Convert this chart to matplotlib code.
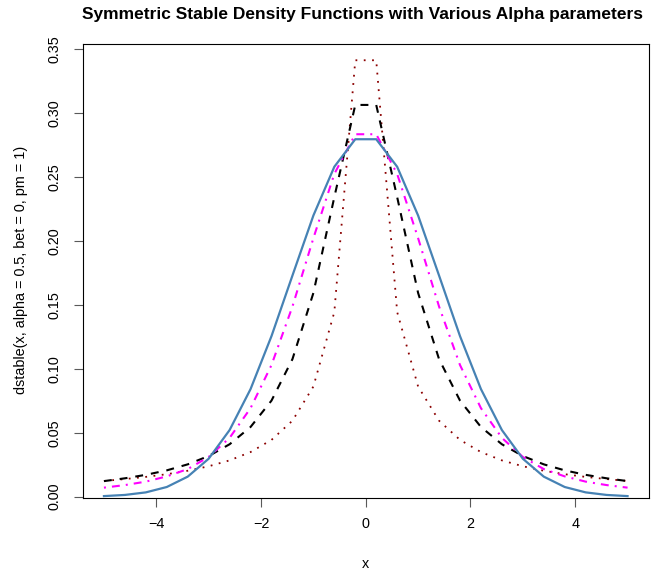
# ==========================================
# SYMMETRIC STABLE DENSITIES
# dstable() curves for alpha = 0.5, 1, 1.5, 2
# values
# ==========================================

import matplotlib
matplotlib.use('Agg')
import matplotlib.pyplot as plt

# =========================
# DATA
# =========================
x = [-5.0, -4.6, -4.2, -3.8, -3.4, -3.0, -2.6, -2.2, -1.8, -1.4, -1.0, -0.6, -0.2,
     0.2, 0.6, 1.0, 1.4, 1.8, 2.2, 2.6, 3.0, 3.4, 3.8, 4.2, 4.6, 5.0]

# alpha = 0.5 (dotted)
dens_a05 = [0.0123, 0.0138, 0.0155, 0.0176, 0.0203, 0.0238, 0.0284, 0.0349, 0.0444,
            0.0594, 0.0861, 0.1443, 0.3410,
            0.3410, 0.1443, 0.0861, 0.0594, 0.0444, 0.0349, 0.0284, 0.0238, 0.0203,
            0.0176, 0.0155, 0.0138, 0.0123]

# alpha = 1 (dashed)
dens_a10 = [0.0122, 0.0144, 0.0171, 0.0206, 0.0253, 0.0318, 0.0410, 0.0545, 0.0751,
            0.1075, 0.1592, 0.2341, 0.3061,
            0.3061, 0.2341, 0.1592, 0.1075, 0.0751, 0.0545, 0.0410, 0.0318, 0.0253,
            0.0206, 0.0171, 0.0144, 0.0122]

# alpha = 1.5 (dot-dash)
dens_a15 = [0.0071, 0.0091, 0.0118, 0.0159, 0.0216, 0.0311, 0.0460, 0.0692, 0.1029,
            0.1486, 0.2020, 0.2522, 0.2832,
            0.2832, 0.2522, 0.2020, 0.1486, 0.1029, 0.0692, 0.0460, 0.0311, 0.0216,
            0.0159, 0.0118, 0.0091, 0.0071]

# alpha = 2 (solid)
dens_a20 = [0.0005, 0.0014, 0.0034, 0.0076, 0.0157, 0.0297, 0.0521, 0.0841, 0.1255,
            0.1728, 0.2197, 0.2578, 0.2793,
            0.2793, 0.2578, 0.2197, 0.1728, 0.1255, 0.0841, 0.0521, 0.0297, 0.0157,
            0.0076, 0.0034, 0.0014, 0.0005]

x_ticks = [-4, -2, 0, 2, 4]
y_ticks = [0.00, 0.05, 0.10, 0.15, 0.20, 0.25, 0.30, 0.35]

# =========================
# FIGURE SETUP
# =========================
plt.rcParams['font.family'] = ['Liberation Sans', 'DejaVu Sans']

W, H = 652, 577
fig = plt.figure(figsize=(W / 100, H / 100), dpi=100)

# plot box in pixels: left 83, right 648.5, top 44, bottom 497.5
ax = fig.add_axes([83 / W, 1 - 497.5 / H, (648.5 - 83) / W, (497.5 - 44) / H])

# =========================
# CURVES
# =========================
ax.plot(x, dens_a05, color='#8B0000', lw=1.3, linestyle=(0, (1, 3.6)))
ax.plot(x, dens_a10, color='black', lw=1.5, linestyle=(0, (3.8, 3.8)))
ax.plot(x, dens_a15, color='magenta', lw=1.5, linestyle=(0, (0.96, 2.9, 3.8, 2.9)))
ax.plot(x, dens_a20, color='steelblue', lw=1.6, linestyle='-')

# =========================
# AXES
# =========================
ax.set_xlim(-5.4, 5.4)
ax.set_ylim(-0.0006, 0.3537)

ax.set_xticks(x_ticks)
ax.set_yticks(y_ticks)
ax.set_yticklabels([f'{v:.2f}' for v in y_ticks], rotation=90, va='center')

ax.tick_params(axis='both', length=6.5, width=0.8, color='0.35',
               labelsize=10.4, labelcolor='black')
ax.tick_params(axis='x', pad=7.5)
ax.tick_params(axis='y', pad=8.8)

for spine in ax.spines.values():
    spine.set_linewidth(0.8)
    spine.set_color('black')

# =========================
# TEXT
# =========================
# title kept fully inside the canvas (starts near the box's left edge)
fig.text(363 / W, 1 - 14 / H,
         'Symmetric Stable Density Functions with Various Alpha parameters',
         ha='center', va='center', fontsize=12.5, fontweight='bold')

fig.text(365.75 / W, 1 - 564 / H, 'x', ha='center', va='center', fontsize=10.4)

fig.text(21 / W, 1 - 270 / H, 'dstable(x, alpha = 0.5, bet = 0, pm = 1)',
         ha='center', va='center', rotation=90, fontsize=10.4)

fig.savefig('out.png', dpi=100)
